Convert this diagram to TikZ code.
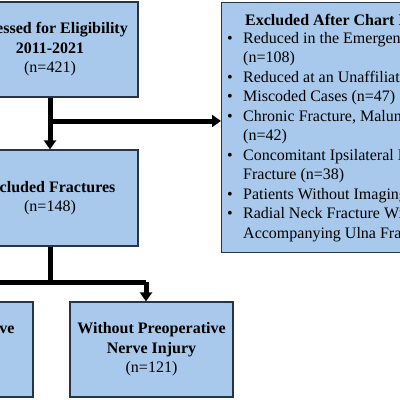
\documentclass[tikz,border=0pt]{standalone}
\usepackage{fontspec}
\setmainfont{Liberation Serif}
\usetikzlibrary{arrows.meta}
\definecolor{boxfill}{HTML}{A8C9EB}
\definecolor{boxline}{HTML}{26354A}
\begin{document}
\begin{tikzpicture}[x=1pt,y=-1pt,
  box/.style={draw=boxline, line width=1.2pt, fill=boxfill, align=center, inner sep=0pt,
              font=\fontsize{16}{19.5}\selectfont},
  conn/.style={line width=5pt, draw=black},
  arr/.style={conn, -{Triangle[width=12pt,length=9pt]}},
  ln/.style={anchor=base west, inner sep=0pt, font=\fontsize{16}{19.5}\selectfont}]
\useasboundingbox (0,0) rectangle (400,400);
\clip (0,0) rectangle (400,400);
% boxes
\node[box, minimum width=176pt, minimum height=95pt] (t) at (50,49.5)
  {\textbf{Assessed for Eligibility}\\\textbf{2011-2021}\\(n=421)};
\node[box, minimum width=176pt, minimum height=96pt] (m) at (50,198)
  {\textbf{Included Fractures}\\(n=148)};
\node[box, minimum width=163pt, minimum height=95pt] (br) at (151.5,349.5)
  {\textbf{Without Preoperative}\\\textbf{Nerve Injury}\\(n=121)};
\node[box, minimum width=163pt, minimum height=95pt] (bl) at (-48.5,349.5)
  {\textbf{With Preoperative}\\\textbf{Nerve Injury}\\(n=27)};
\node[box, minimum width=220pt, minimum height=250pt, anchor=north west] (e) at (221,2) {};
% excluded list
\node[ln] (title) at (245,25) {\textbf{Excluded After Chart Review}};
\node[ln] (b1) at (227,43.5) {•};
\node[ln] (l1) at (243,43.5) {Reduced in the Emergency Department};
\node[ln] (l2) at (243,62.95) {(n=108)};
\node[ln] (b3) at (227,82.4) {•};
\node[ln] (l3) at (243,82.4) {Reduced at an Unaffiliated Hospital};
\node[ln] (b4) at (227,101.85) {•};
\node[ln] (l4) at (243,101.85) {Miscoded Cases (n=47)};
\node[ln] (b5) at (227,121.3) {•};
\node[ln] (l5) at (243,121.3) {Chronic Fracture, Malunion};
\node[ln] (l6) at (243,140.75) {(n=42)};
\node[ln] (b7) at (227,160.2) {•};
\node[ln] (l7) at (243,160.2) {Concomitant Ipsilateral Elbow};
\node[ln] (l8) at (243,179.65) {Fracture (n=38)};
\node[ln] (b9) at (227,199.1) {•};
\node[ln] (l9) at (243,199.1) {Patients Without Imaging};
\node[ln] (b10) at (227,218.55) {•};
\node[ln] (l10) at (243,218.55) {Radial Neck Fracture Without};
\node[ln] (l11) at (243,238) {Accompanying Ulna Fracture};
% connectors
\coordinate (j1) at (50,121);
\coordinate (j2) at (50,282);
\coordinate (jr) at (146,282);
\coordinate (jl) at (-46,282);
\draw[arr] (t.south) -- (t.south |- m.north);
\draw[arr] (j1) -- (j1 -| e.west);
\draw[conn] (m.south) -- (j2);
\draw[conn] (jl) -- (jr);
\draw[arr] (jr) -- (jr |- br.north);
\draw[arr] (jl) -- (jl |- bl.north);
\end{tikzpicture}
\end{document}
